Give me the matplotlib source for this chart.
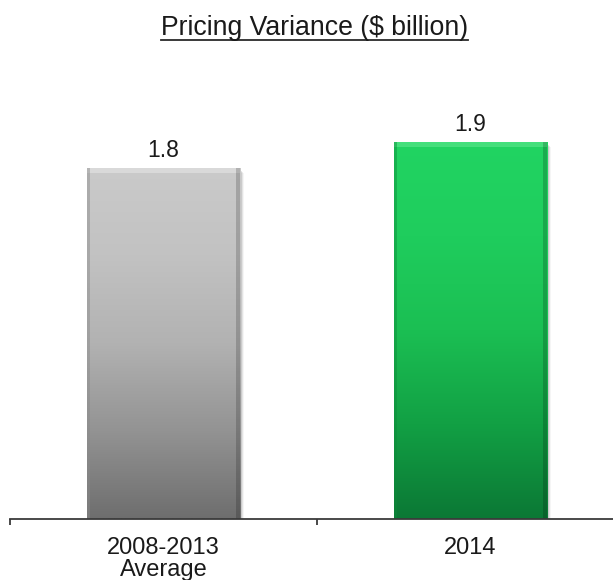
import numpy as np
import matplotlib
matplotlib.use("Agg")
import matplotlib.pyplot as plt
from matplotlib.colors import LinearSegmentedColormap
from matplotlib.patches import Rectangle

# ---- data ----
categories = ["2008-2013\nAverage", "2014"]
values = [1.78, 1.91]
value_labels = ["1.8", "1.9"]
title = "Pricing Variance ($ billion)"

plt.rcParams['font.family'] = ['Liberation Sans', 'DejaVu Sans']

W, H = 613, 580
fig = plt.figure(figsize=(W / 100, H / 100), dpi=100)
fig.patch.set_facecolor("white")

ax_left, ax_right = 10, 624
ax_bottom, ax_top = 519, 0
ax = fig.add_axes([ax_left / W, (H - ax_bottom) / H, (ax_right - ax_left) / W, (ax_bottom - ax_top) / H])
ax.set_xlim(-0.5, 1.5)
px_per_unit = 197.3
ax.set_ylim(0, (ax_bottom - ax_top) / px_per_unit)
ax.patch.set_alpha(0)

x = np.arange(len(categories))
gradients = [
    ["#6e6e6e", "#939393", "#b2b2b2", "#c2c2c2", "#cacaca"],
    ["#0b7835", "#12a044", "#1bbf53", "#1fcd5d", "#21d462"],
]
edge_dark = ["#8a8a8a", "#0c8a3a"]
top_light = ["#e8e8e8", "#62ea92"]

bars = ax.bar(x, values, width=0.5, color="none", edgecolor="none", zorder=3)

dx = 2.0 / (ax_right - ax_left)         # data units per pixel (x)
dy = 1.0 / px_per_unit                  # data units per pixel (y)

for i, b in enumerate(bars):
    bx, by, bw, bh = b.get_x(), b.get_y(), b.get_width(), b.get_height()
    # soft shadow
    for k, a in enumerate([0.10, 0.07, 0.04]):
        ax.add_patch(Rectangle((bx + (2 + k) * dx, by), bw, bh - (3 + k) * dy,
                               facecolor="black", alpha=a, edgecolor="none", zorder=2))
    cmap = LinearSegmentedColormap.from_list("g%d" % i, gradients[i])
    grad = np.linspace(0, 1, 256).reshape(-1, 1)
    im = ax.imshow(grad, cmap=cmap, origin="lower", aspect="auto",
                   extent=(bx, bx + bw, by, by + bh), zorder=3, interpolation="bilinear")
    im.set_clip_path(b)
    # bevel: top highlight, left / right darker strips
    ax.add_patch(Rectangle((bx, by + bh - 5 * dy), bw, 5 * dy, facecolor=top_light[i],
                           alpha=0.55, edgecolor="none", zorder=4))
    ax.add_patch(Rectangle((bx, by), 3 * dx, bh, facecolor=edge_dark[i],
                           alpha=0.45, edgecolor="none", zorder=4))
    ax.add_patch(Rectangle((bx + bw - 4 * dx, by), 4 * dx, bh, facecolor="black",
                           alpha=0.18, edgecolor="none", zorder=4))
    ax.annotate(value_labels[i], (bx + bw / 2, by + bh), xytext=(0, 7.8),
                textcoords="offset points", ha="center", va="baseline",
                fontsize=16.5, color="#1a1a1a")

ax.set_xlim(-0.5, 1.5)

for s in ["left", "right", "top"]:
    ax.spines[s].set_visible(False)
ax.spines["bottom"].set_color("#3a3a3a")
ax.spines["bottom"].set_linewidth(1.3)
ax.spines["bottom"].set_zorder(5)
ax.set_yticks([])
ax.set_xticks(x)
ax.set_xticklabels(categories, fontsize=17, color="#1a1a1a", linespacing=1.0)
ax.tick_params(axis="x", which="major", length=0, pad=13)
ax.set_xticks([-0.5, 0.5, 1.5], minor=True)
ax.tick_params(axis="x", which="minor", length=4.5, width=1.3, color="#3a3a3a", direction="out")

# title with underline
t = fig.text(314.5 / W, 1 - 35 / H, title, ha="center", va="baseline",
             fontsize=19.2, color="#1a1a1a")
fig.canvas.draw()
bb = t.get_window_extent()
uy = 1 - 40 / H
fig.add_artist(plt.Line2D([bb.x0 / W, bb.x1 / W], [uy, uy], color="#2a2a2a", lw=1.3))

fig.savefig("out.png", dpi=100, facecolor="white")
